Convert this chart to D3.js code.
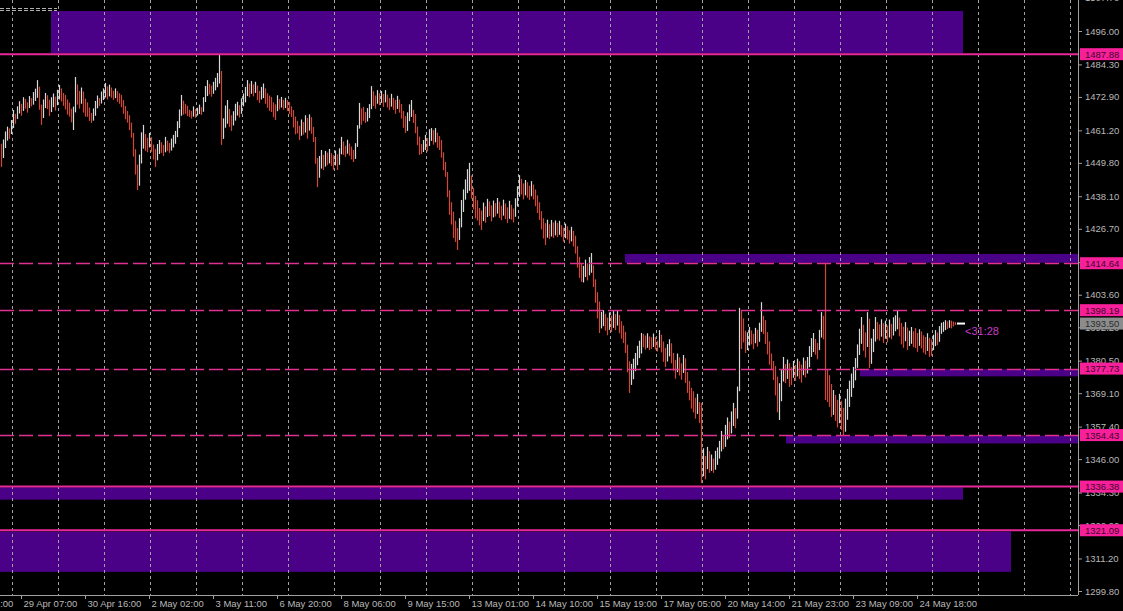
<!DOCTYPE html>
<html><head><meta charset="utf-8">
<script src="https://cdn.jsdelivr.net/npm/d3@7"></script>
<style>html,body{margin:0;padding:0;background:#000;overflow:hidden}</style>
</head><body><svg id="c" width="1123" height="611"></svg>
<script>
// ---- DATA ----
// hourly bars: [high, low]
const hl = [
[1456.5,1448.4],[1458.0,1451.5],[1460.8,1455.0],[1462.5,1457.6],[1461.9,1458.2],[1464.8,1459.9],[1468.3,1462.0],[1467.0,1463.5],[1469.6,1465.2],[1471.4,1467.1],
[1470.5,1466.3],[1472.8,1468.0],[1472.2,1468.8],[1471.0,1467.4],[1473.2,1469.0],[1472.5,1469.6],[1474.6,1470.2],[1475.8,1471.5],[1478.8,1472.6],[1476.5,1468.4],
[1470.2,1463.1],[1472.0,1465.5],[1474.3,1469.0],[1473.5,1468.6],[1471.9,1466.2],[1472.8,1467.6],[1474.1,1469.3],[1473.0,1468.1],[1475.4,1470.0],[1477.1,1472.0],
[1475.9,1471.3],[1474.3,1469.8],[1473.6,1468.5],[1472.0,1466.7],[1470.9,1466.0],[1468.8,1464.0],[1469.5,1461.3],[1479.9,1467.5],[1477.3,1470.2],[1475.0,1468.8],
[1476.2,1470.5],[1474.8,1467.4],[1472.3,1466.0],[1471.0,1465.9],[1469.2,1464.5],[1467.3,1463.8],[1468.9,1464.6],[1471.5,1466.3],[1473.4,1468.9],[1472.5,1469.7],
[1474.8,1470.6],[1475.9,1471.8],[1477.8,1472.7],[1476.6,1472.0],[1477.2,1473.1],[1476.2,1472.6],[1475.1,1471.8],[1475.9,1472.5],[1475.0,1471.2],[1474.2,1470.5],
[1473.6,1469.3],[1471.8,1467.0],[1469.7,1465.1],[1468.0,1463.9],[1466.5,1461.3],[1463.9,1458.6],[1460.3,1452.0],[1454.6,1445.7],[1449.2,1440.3],[1452.7,1441.8],
[1460.5,1449.6],[1463.1,1454.8],[1459.9,1454.0],[1458.6,1453.5],[1460.3,1455.2],[1458.8,1453.7],[1456.2,1451.0],[1454.7,1448.4],[1456.4,1450.7],[1457.8,1452.9],
[1457.0,1453.3],[1456.1,1452.2],[1458.9,1453.5],[1457.6,1454.0],[1456.8,1453.3],[1458.3,1454.1],[1459.6,1455.2],[1461.0,1456.5],[1464.4,1458.8],[1468.5,1462.0],
[1473.6,1466.3],[1471.6,1466.7],[1470.5,1467.0],[1469.8,1466.2],[1468.4,1465.9],[1468.0,1465.3],[1469.6,1466.0],[1468.7,1465.6],[1469.1,1466.4],[1470.2,1466.9],
[1469.3,1466.6],[1472.8,1467.7],[1476.7,1471.1],[1478.8,1473.2],[1477.5,1473.8],[1476.9,1473.0],[1478.2,1474.0],[1479.6,1475.2],[1481.3,1476.3],[1487.9,1477.6],
[1482.0,1456.1],[1465.4,1458.2],[1469.9,1462.1],[1471.8,1463.5],[1468.7,1462.4],[1466.5,1461.0],[1467.9,1462.9],[1470.5,1464.6],[1471.2,1466.4],[1470.0,1465.7],
[1472.4,1467.0],[1474.1,1469.6],[1476.4,1471.0],[1478.8,1473.2],[1477.6,1472.8],[1478.5,1474.0],[1477.3,1473.1],[1478.2,1474.3],[1476.9,1471.7],[1475.0,1470.8],
[1476.4,1472.0],[1477.6,1472.5],[1475.9,1470.5],[1474.2,1469.1],[1473.4,1468.0],[1472.9,1467.6],[1471.0,1465.8],[1470.3,1464.8],[1473.5,1467.9],[1472.2,1468.5],
[1472.9,1469.2],[1471.9,1468.4],[1472.6,1469.0],[1471.8,1468.0],[1471.1,1466.9],[1469.6,1465.9],[1468.3,1462.2],[1466.0,1459.8],[1464.5,1460.1],[1462.8,1457.8],
[1465.0,1459.3],[1464.1,1459.7],[1466.5,1460.4],[1465.5,1458.3],[1466.8,1461.1],[1465.8,1460.0],[1462.4,1457.1],[1458.9,1449.5],[1451.5,1441.3],[1452.2,1444.6],
[1454.3,1447.8],[1452.6,1447.3],[1454.0,1448.5],[1453.4,1449.0],[1454.7,1449.6],[1453.2,1448.7],[1452.5,1447.4],[1454.1,1448.9],[1452.8,1447.3],[1454.9,1449.1],
[1458.9,1452.8],[1457.3,1452.6],[1455.8,1451.9],[1457.9,1453.0],[1456.6,1452.3],[1455.5,1451.0],[1454.3,1450.1],[1456.7,1451.2],[1463.0,1455.4],[1470.8,1461.8],
[1468.9,1463.2],[1469.4,1464.5],[1467.6,1463.8],[1469.0,1464.3],[1470.4,1465.5],[1476.7,1468.6],[1474.9,1469.7],[1473.4,1468.8],[1475.3,1470.5],[1474.2,1470.0],
[1475.0,1470.8],[1473.9,1469.4],[1475.3,1471.0],[1473.7,1469.2],[1472.5,1468.3],[1474.0,1469.5],[1472.6,1468.4],[1471.9,1467.0],[1473.3,1468.7],[1472.0,1467.4],
[1470.4,1465.3],[1468.0,1462.1],[1466.2,1460.3],[1467.5,1461.0],[1470.3,1464.4],[1471.8,1465.9],[1468.4,1463.8],[1466.9,1460.2],[1462.5,1456.0],[1459.0,1452.6],
[1456.4,1452.9],[1457.8,1453.6],[1459.6,1454.3],[1458.5,1453.8],[1461.6,1455.7],[1462.0,1457.5],[1461.3,1456.2],[1462.0,1457.0],[1460.4,1455.1],[1459.2,1454.3],
[1457.8,1451.6],[1453.5,1447.2],[1450.1,1444.9],[1446.6,1437.8],[1440.2,1431.6],[1436.0,1428.2],[1432.7,1423.5],[1429.5,1422.1],[1427.0,1419.3],[1430.4,1422.8],
[1436.8,1427.2],[1440.5,1432.6],[1444.0,1436.9],[1447.6,1439.2],[1449.8,1440.0],[1445.4,1437.3],[1441.1,1433.5],[1438.2,1430.4],[1436.7,1429.6],[1434.0,1427.9],
[1433.1,1426.3],[1435.9,1429.4],[1434.6,1428.8],[1437.2,1430.8],[1436.3,1431.2],[1434.9,1429.3],[1436.6,1430.7],[1435.7,1431.0],[1437.5,1432.0],[1436.2,1430.5],
[1434.8,1429.7],[1436.9,1431.3],[1435.6,1430.1],[1434.2,1428.7],[1436.5,1430.2],[1435.1,1429.9],[1433.8,1428.9],[1437.4,1430.9],[1441.6,1434.5],[1445.5,1437.9],
[1444.2,1438.7],[1442.6,1437.0],[1443.8,1438.4],[1443.0,1437.6],[1441.8,1436.8],[1443.4,1438.1],[1442.2,1437.0],[1440.5,1434.6],[1438.4,1432.2],[1436.0,1429.8],
[1432.9,1426.5],[1430.4,1423.3],[1428.7,1421.0],[1429.9,1423.6],[1428.3,1423.1],[1429.8,1424.0],[1428.9,1423.5],[1429.6,1424.4],[1428.8,1423.8],[1429.5,1424.6],
[1428.0,1423.9],[1427.1,1422.2],[1428.5,1423.4],[1427.6,1422.9],[1426.2,1421.5],[1427.4,1422.3],[1426.0,1420.5],[1424.3,1418.0],[1420.6,1413.1],[1416.9,1409.5],
[1414.5,1408.1],[1413.7,1407.9],[1415.9,1409.8],[1414.6,1408.6],[1416.8,1410.4],[1418.2,1411.3],[1413.9,1406.3],[1409.0,1400.8],[1404.5,1395.3],[1401.2,1390.2],
[1397.6,1391.8],[1398.2,1392.6],[1396.9,1391.0],[1395.6,1389.4],[1397.4,1391.3],[1396.3,1390.5],[1397.9,1392.0],[1396.8,1391.2],[1398.0,1392.8],[1396.5,1390.1],
[1394.3,1388.2],[1392.8,1386.7],[1390.6,1383.2],[1386.1,1376.4],[1380.3,1369.2],[1379.4,1372.0],[1381.2,1374.0],[1383.2,1376.8],[1385.7,1378.9],[1387.5,1381.4],
[1390.2,1383.0],[1389.9,1385.2],[1389.3,1384.4],[1390.1,1385.0],[1389.0,1384.2],[1388.7,1384.6],[1390.0,1385.3],[1388.8,1384.4],[1387.5,1383.7],[1391.2,1385.1],
[1389.6,1383.4],[1387.2,1380.1],[1385.0,1378.3],[1386.3,1380.2],[1388.0,1382.0],[1386.6,1379.6],[1383.2,1377.0],[1380.8,1374.2],[1383.0,1376.5],[1381.7,1375.3],
[1379.6,1373.8],[1382.5,1376.2],[1381.3,1372.7],[1376.5,1369.2],[1373.4,1366.6],[1371.0,1363.7],[1369.8,1362.4],[1367.5,1360.2],[1368.9,1361.8],[1366.0,1358.7],
[1365.7,1337.6],[1349.8,1340.0],[1347.1,1338.9],[1350.3,1342.5],[1348.8,1341.2],[1347.6,1341.9],[1346.2,1341.2],[1348.9,1342.3],[1350.1,1344.0],[1352.4,1346.2],
[1355.9,1348.7],[1354.2,1349.5],[1358.0,1350.3],[1360.6,1352.9],[1359.1,1353.4],[1362.7,1355.0],[1365.7,1357.6],[1363.9,1356.8],[1371.4,1360.2],[1399.0,1369.8],
[1398.2,1384.6],[1395.3,1386.9],[1391.0,1383.2],[1390.4,1384.2],[1392.3,1385.8],[1391.1,1386.2],[1389.9,1384.5],[1392.0,1386.6],[1391.3,1385.4],[1393.8,1387.1],
[1401.0,1390.6],[1396.2,1389.8],[1394.7,1386.3],[1390.5,1382.7],[1387.3,1379.1],[1383.0,1377.2],[1380.4,1373.7],[1378.6,1368.3],[1374.9,1362.4],[1372.6,1359.7],
[1377.5,1366.3],[1381.8,1373.2],[1379.3,1372.6],[1380.9,1374.1],[1379.6,1371.3],[1378.2,1372.0],[1380.4,1374.5],[1379.0,1373.4],[1381.2,1375.0],[1380.3,1374.1],
[1379.1,1372.8],[1381.6,1375.4],[1380.5,1374.6],[1381.8,1376.0],[1385.6,1378.2],[1388.4,1381.8],[1390.2,1383.5],[1388.1,1382.6],[1386.7,1381.0],[1391.3,1384.2],
[1397.5,1388.6],[1396.2,1388.0],[1414.6,1366.7],[1377.2,1366.0],[1375.4,1364.3],[1372.3,1360.8],[1370.2,1361.5],[1368.5,1359.4],[1366.8,1357.1],[1368.9,1358.6],
[1366.4,1356.2],[1364.0,1354.4],[1367.2,1355.6],[1370.6,1359.8],[1373.5,1364.3],[1376.0,1367.8],[1378.3,1370.9],[1381.4,1373.6],[1386.2,1378.0],[1391.7,1382.5],
[1395.8,1386.4],[1393.1,1384.0],[1390.4,1381.6],[1397.5,1385.3],[1395.2,1377.9],[1388.3,1379.4],[1391.6,1383.5],[1395.8,1387.2],[1394.1,1388.0],[1393.2,1387.5],
[1395.0,1388.9],[1393.6,1386.7],[1394.5,1388.2],[1392.8,1386.9],[1394.9,1388.6],[1393.4,1388.0],[1395.7,1389.3],[1396.4,1390.8],[1398.2,1391.5],[1395.6,1389.0],
[1393.7,1386.2],[1392.4,1385.0],[1394.0,1387.3],[1392.1,1384.2],[1391.0,1385.6],[1392.3,1386.4],[1390.8,1385.2],[1391.9,1384.9],[1390.2,1383.6],[1391.5,1385.7],
[1390.7,1384.8],[1389.4,1383.3],[1388.8,1382.6],[1390.1,1383.9],[1388.5,1381.8],[1387.9,1382.2],[1389.6,1384.2],[1391.2,1385.6],[1390.4,1386.0],[1392.6,1387.1],
[1393.8,1389.9],[1394.1,1390.6],[1394.7,1391.2],[1394.3,1391.6],[1394.7,1392.0],[1394.5,1391.8],[1394.2,1392.5],[1394.0,1393.0]
];
// u = bullish bar, d = bearish bar
const dirs =
"duuuduuduu"+"dudduduuud"+"duudduuduu"+"dddddduudd"+"uddddduuud"+
"uuududdudd"+"dddddddddu"+"uudduddduu"+"ddudduuuuu"+"uddddduduu"+
"duuudduuuu"+"duuudduuud"+"uuuudududd"+"uuddddddud"+"ududdddddd"+
"udududdddu"+"udududdudu"+"udduddduuu"+"ddduuuddud"+"ududduddud"+
"ddduuudddd"+"duuduududd"+"dddddddddu"+"uuuuuddddd"+"dududdudud"+
"duddudduuu"+"dduddudddd"+"dddudududu"+"dduddudddd"+"duuduudddd"+
"uuddududud"+"ddddduuuuu"+"uddudduddu"+"ddduudddud"+"duddddddud"+
"dudududuuu"+"uduuduuduu"+"ddduuddudu"+"uddddddddu"+"uududdudud"+
"duduuuuddu"+"uddddduddu"+"dduuuuuuuu"+"udduduuudd"+"udududuuud"+
"dduduudddu"+"dddudduudu"+"uuududdd";

const yTickValues = [1507.70,1496.00,1484.30,1472.90,1461.20,1449.80,1438.10,1426.70,1415.00,1403.60,1392.20,1380.50,1369.10,1357.40,1346.00,1334.30,1322.90,1311.20,1299.80];
const xTickBars = [-22,10,42,74,106,138,170,202,234,266,298,330,362,394,426,458];
const xTickLabels = ["26 Apr 21:00","29 Apr 07:00","30 Apr 16:00","2 May 02:00","3 May 11:00","6 May 20:00","8 May 06:00","9 May 15:00","13 May 01:00","14 May 10:00","15 May 19:00","17 May 05:00","20 May 14:00","21 May 23:00","23 May 09:00","24 May 18:00"];

const solidLevels = [1487.88, 1336.38, 1321.09];
const dashedLevels = [1414.64, 1398.19, 1377.73, 1354.43];

// supply/demand zones
const zoneStartBar = [25, 312, 429.5, 392.5, -1, -1];
const zoneEndBar   = [481, 560, 560, 560, 481, 505];
const zoneTop      = [1503.0, 1417.9, 1377.5, 1354.2, 1336.1, 1320.6];
const zoneBottom   = [1488.2, 1414.8, 1375.0, 1351.5, 1331.8, 1306.5];

const lastPrice = 1393.50;
const countdown = "<31:28";

// ---- DRAW ----
const svg = d3.select("#c");
const plotR = 1078, plotB = 595;
svg.append("rect").attr("width",1123).attr("height",611).attr("fill","#000");

const y = d3.scaleLinear().domain([1299.8, 1496.0]).range([591, 31]);
const x = d3.scaleLinear().domain([0, 477]).range([1, 955]);

svg.append("defs").append("clipPath").attr("id","plot")
  .append("rect").attr("x",0).attr("y",0).attr("width",plotR).attr("height",plotB);
const g = svg.append("g").attr("clip-path","url(#plot)");

// zones
g.selectAll("rect.zone").data(zoneTop.map((t,i)=>i)).enter().append("rect")
  .attr("class","zone")
  .attr("x", i => x(zoneStartBar[i]))
  .attr("width", i => x(zoneEndBar[i]) - x(zoneStartBar[i]))
  .attr("y", i => y(zoneTop[i]))
  .attr("height", i => y(zoneBottom[i]) - y(zoneTop[i]))
  .attr("fill", "#4b0088");

// vertical grid
const gridBars = d3.range(5.35, 560, 23);
g.selectAll("line.grid").data(gridBars).enter().append("line")
  .attr("x1", d => Math.round(x(d))+0.5).attr("x2", d => Math.round(x(d))+0.5)
  .attr("y1", 0).attr("y2", plotB)
  .attr("stroke", "#a0a0a0").attr("stroke-width", 1).attr("stroke-dasharray","3,3");

// top-left dashed marker lines
[1504.0, 1503.3].forEach(p => {
  g.append("line").attr("x1",0).attr("x2",x(28)).attr("y1",Math.round(y(p))+0.5).attr("y2",Math.round(y(p))+0.5)
   .attr("stroke","#b0b0b0").attr("stroke-dasharray","4,2").attr("stroke-width",1);
});

// bars
const n = Math.min(hl.length, dirs.length);
const barData = d3.range(n).map(i => ({i, h: hl[i][0], l: hl[i][1], up: dirs[i] === "u"}));
g.selectAll("line.bar").data(barData).enter().append("line")
  .attr("x1", d => Math.round(x(d.i))+0.5).attr("x2", d => Math.round(x(d.i))+0.5)
  .attr("y1", d => y(d.h)).attr("y2", d => y(d.l))
  .attr("stroke", d => d.up ? "#d8d8d8" : "#d04838").attr("stroke-width", 1.2);

// level lines
g.selectAll("line.sl").data(solidLevels).enter().append("line")
  .attr("x1",0).attr("x2",plotR).attr("y1",d=>y(d)).attr("y2",d=>y(d))
  .attr("stroke","#e8289a").attr("stroke-width",2);
g.selectAll("line.dl").data(dashedLevels).enter().append("line")
  .attr("x1",0).attr("x2",plotR).attr("y1",d=>Math.round(y(d))+0.5).attr("y2",d=>Math.round(y(d))+0.5)
  .attr("stroke","#e03090").attr("stroke-width",1.3).attr("stroke-dasharray","14,5");

// current price marker + countdown
g.append("line").attr("x1", x(n-1)+2).attr("x2", x(n-1)+10)
  .attr("y1", y(lastPrice)).attr("y2", y(lastPrice))
  .attr("stroke","#ffffff").attr("stroke-width",2);
svg.append("text").attr("x", x(n-1)+10).attr("y", y(lastPrice)+11)
  .attr("fill","#c83cc8").attr("font-family","Liberation Sans, Arial, sans-serif")
  .attr("font-size","11px").text(countdown);

// axes frame
svg.append("line").attr("x1",plotR+0.5).attr("x2",plotR+0.5).attr("y1",0).attr("y2",plotB)
  .attr("stroke","#a0a0a0");
svg.append("line").attr("x1",0).attr("x2",plotR).attr("y1",plotB+0.5).attr("y2",plotB+0.5)
  .attr("stroke","#a0a0a0");

// right axis
const ay = svg.append("g").attr("transform",`translate(${plotR},0)`)
  .call(d3.axisRight(y).tickValues(yTickValues).tickSize(4).tickPadding(3).tickFormat(d3.format(".2f")));
ay.select(".domain").remove();
ay.selectAll("line").attr("stroke","#a0a0a0");
ay.selectAll("text").attr("fill","#b8b8b8").attr("font-family","Liberation Sans, Arial, sans-serif").attr("font-size","9.5px");

// bottom axis
const ax = svg.append("g");
xTickBars.forEach((b,k) => {
  const px = Math.round(x(b))+0.5;
  ax.append("line").attr("x1",px).attr("x2",px).attr("y1",plotB).attr("y2",plotB+4).attr("stroke","#a0a0a0");
  ax.append("text").attr("x",px+2).attr("y",607).attr("fill","#b8b8b8")
    .attr("font-family","Liberation Sans, Arial, sans-serif").attr("font-size","9.5px").text(xTickLabels[k]);
});

// price label boxes
const boxes = solidLevels.concat(dashedLevels).map(v => ({v, bg:"#f8209a", fg:"#40082a"}));
boxes.push({v:lastPrice, bg:"#8c8c8c", fg:"#2c2c2c"});
const bx = svg.selectAll("g.box").data(boxes).enter().append("g");
bx.append("rect").attr("x",plotR+2).attr("width",1123-plotR-2)
  .attr("y", d => y(d.v)-6).attr("height",12).attr("fill", d => d.bg);
bx.append("text").attr("x",plotR+7).attr("y", d => y(d.v)+3.5)
  .attr("fill", d => d.fg).attr("font-family","Liberation Sans, Arial, sans-serif").attr("font-size","9.5px")
  .text(d => d3.format(".2f")(d.v));
</script>
</body></html>
